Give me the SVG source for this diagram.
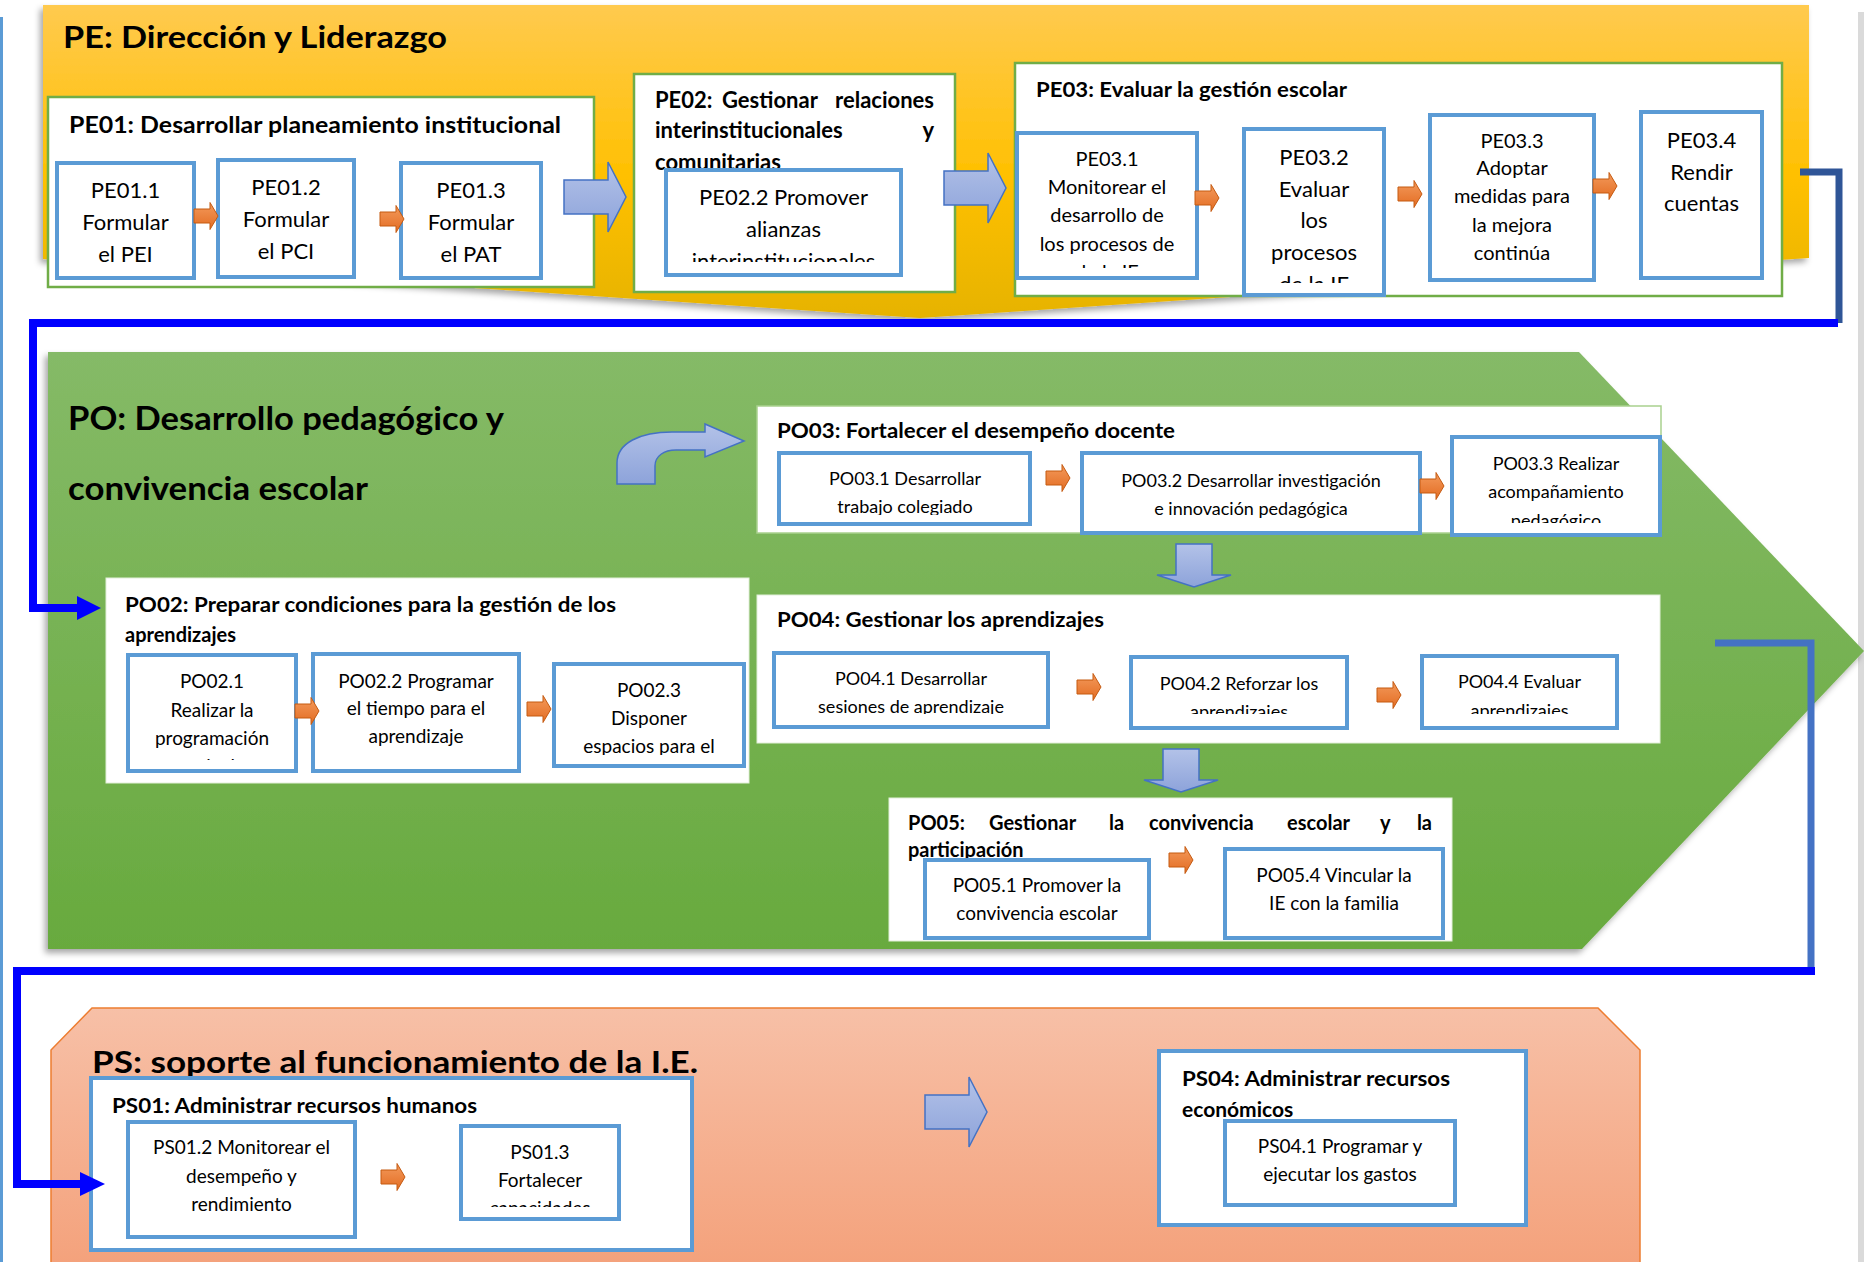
<svg xmlns="http://www.w3.org/2000/svg" width="1864" height="1262" viewBox="0 0 1864 1262">
<defs>
<style>
.t{font-family:Lato,"Open Sans","DejaVu Sans",sans-serif;fill:#000}
.b{font-weight:bold}
.c{text-anchor:middle}
.s18{font-size:18px}.s19{font-size:19px}.s20{font-size:20px}.s21{font-size:21px}.s22{font-size:22px}
.gb{fill:#fff;stroke:#70AD47;stroke-width:2.5}
.bb{fill:#fff;stroke:#5B9BD5;stroke-width:4}
.wb{fill:#fff;stroke:#E2EFD9;stroke-width:1}
.oa{fill:url(#og);stroke:#C55A11;stroke-width:1}
.ba{fill:url(#bg);stroke:#4472C4;stroke-width:1.5}
.cn{fill:none;stroke-linejoin:miter}
</style>
<linearGradient id="yg" x1="0" y1="0" x2="0" y2="1">
<stop offset="0" stop-color="#FFCA4F"/><stop offset="0.55" stop-color="#FFC000"/><stop offset="1" stop-color="#E6B300"/>
</linearGradient>
<linearGradient id="gg" x1="0" y1="0" x2="0" y2="1">
<stop offset="0" stop-color="#85BA67"/><stop offset="1" stop-color="#68AA3E"/>
</linearGradient>
<linearGradient id="pg" x1="0" y1="0" x2="0" y2="1">
<stop offset="0" stop-color="#F7C0A7"/><stop offset="1" stop-color="#F4A27C"/>
</linearGradient>
<linearGradient id="og" x1="0" y1="0" x2="0" y2="1">
<stop offset="0" stop-color="#F39A5C"/><stop offset="1" stop-color="#E36C22"/>
</linearGradient>
<linearGradient id="bg" x1="0" y1="0" x2="0" y2="1">
<stop offset="0" stop-color="#B3C2E8"/><stop offset="1" stop-color="#8DA3DA"/>
</linearGradient>
<filter id="sh" x="-5%" y="-5%" width="110%" height="115%">
<feDropShadow dx="-3" dy="4" stdDeviation="3" flood-color="#000" flood-opacity="0.35"/>
</filter>
<path id="oa" d="M0,-7 H16 V-13.5 L24,0 L16,13.5 V7 H0 Z"/>
<path id="ba" d="M0,-17 H44 V-35 L62,0 L44,35 V17 H0 Z"/>
<path id="da" d="M-18,0 H18 V31 H37 L0,43 L-37,31 H-18 Z"/>
<clipPath id="cPE022"><rect x="668" y="172" width="231" height="90"/></clipPath>
<clipPath id="cPE031"><rect x="1019" y="135" width="176" height="133"/></clipPath>
<clipPath id="cPE032"><rect x="1246" y="131" width="136" height="152"/></clipPath>
<clipPath id="cPO031"><rect x="781" y="455" width="247" height="60"/></clipPath>
<clipPath id="cPO033"><rect x="1454" y="439" width="204" height="84"/></clipPath>
<clipPath id="cPO041"><rect x="776" y="655" width="270" height="59"/></clipPath>
<clipPath id="cPO042"><rect x="1133" y="659" width="212" height="55"/></clipPath>
<clipPath id="cPO044"><rect x="1424" y="658" width="191" height="56"/></clipPath>
<clipPath id="cPO021"><rect x="130" y="657" width="164" height="103"/></clipPath>
<clipPath id="cPO023"><rect x="556" y="666" width="186" height="89"/></clipPath>
<clipPath id="cPS013"><rect x="463" y="1128" width="154" height="79"/></clipPath>
</defs>

<rect width="1864" height="1262" fill="#fff"/>
<rect x="0" y="17" width="3" height="1245" fill="#5B9BD5"/>
<rect x="1858" y="12" width="6" height="1250" fill="#DADADA"/>

<!-- Bands -->
<g id="band-PE">
<path d="M43,5 H1809 V258 L920,318 L43,259 Z" fill="url(#yg)" filter="url(#sh)"/>
<text class="t b" x="63" y="48" font-size="30" textLength="384" lengthAdjust="spacingAndGlyphs">PE: Dirección y Liderazgo</text>
</g>
<g id="band-PO">
<path d="M48,352 H1579 L1864,651 L1582,949 H48 Z" fill="url(#gg)" filter="url(#sh)"/>
<text class="t b" x="68" y="430" font-size="32" textLength="436" lengthAdjust="spacingAndGlyphs">PO: Desarrollo pedagógico y</text>
<text class="t b" x="68" y="500" font-size="32" textLength="300" lengthAdjust="spacingAndGlyphs">convivencia escolar</text>
</g>
<g id="band-PS">
<path d="M51,1262 V1050 L92,1008 H1598 L1640,1050 V1262" fill="url(#pg)" stroke="#ED7D31" stroke-width="1.5"/>
<text class="t b" x="92" y="1073" font-size="31" textLength="606" lengthAdjust="spacingAndGlyphs">PS: soporte al funcionamiento de la I.E.</text>
</g>

<!-- PE nodes -->
<g id="PE01">
<rect class="gb" x="48" y="97" width="546" height="190"/>
<text class="t b s22" x="69" y="133" textLength="492" lengthAdjust="spacingAndGlyphs">PE01: Desarrollar planeamiento institucional</text>
</g>
<g id="PE01.1">
<rect class="bb" x="57" y="163" width="137" height="115"/>
<text class="t c s22" x="125.5" y="198">PE01.1</text>
<text class="t c s22" x="125.5" y="230">Formular</text>
<text class="t c s22" x="125.5" y="262">el PEI</text>
</g>
<g id="PE01.2">
<rect class="bb" x="218" y="160" width="136" height="117"/>
<text class="t c s22" x="286" y="195">PE01.2</text>
<text class="t c s22" x="286" y="227">Formular</text>
<text class="t c s22" x="286" y="259">el PCI</text>
</g>
<g id="PE01.3">
<rect class="bb" x="401" y="163" width="140" height="115"/>
<text class="t c s22" x="471" y="198">PE01.3</text>
<text class="t c s22" x="471" y="230">Formular</text>
<text class="t c s22" x="471" y="262">el PAT</text>
</g>
<g id="PE02">
<rect class="gb" x="634" y="74" width="321" height="218"/>
<text class="t b s22" y="108"><tspan x="655">PE02:</tspan><tspan x="722">Gestionar</tspan><tspan x="934" text-anchor="end">relaciones</tspan></text>
<text class="t b s22" x="655" y="138">interinstitucionales</text>
<text class="t b s22" x="934" y="138" text-anchor="end">y</text>
<text class="t b s22" x="655" y="170">comunitarias</text>
</g>
<g id="PE02.2">
<rect class="bb" x="666" y="170" width="235" height="105"/>
<g clip-path="url(#cPE022)">
<text class="t c s22" x="783.5" y="205">PE02.2 Promover</text>
<text class="t c s22" x="783.5" y="237">alianzas</text>
<text class="t c s22" x="783.5" y="269">interinstitucionales</text>
</g>
</g>
<g id="PE03">
<rect class="gb" x="1015" y="63" width="767" height="233"/>
<text class="t b s21" x="1036" y="97" textLength="311" lengthAdjust="spacingAndGlyphs">PE03: Evaluar la gestión escolar</text>
</g>
<g id="PE03.1">
<rect class="bb" x="1017" y="133" width="180" height="145"/>
<g clip-path="url(#cPE031)">
<text class="t c s20" x="1107" y="166">PE03.1</text>
<text class="t c s20" x="1107" y="194">Monitorear el</text>
<text class="t c s20" x="1107" y="222">desarrollo de</text>
<text class="t c s20" x="1107" y="251">los procesos de</text>
<text class="t c s20" x="1107" y="279">de la IE</text>
</g>
</g>
<g id="PE03.2">
<rect class="bb" x="1244" y="129" width="140" height="166"/>
<g clip-path="url(#cPE032)">
<text class="t c s22" x="1314" y="165">PE03.2</text>
<text class="t c s22" x="1314" y="197">Evaluar</text>
<text class="t c s22" x="1314" y="228">los</text>
<text class="t c s22" x="1314" y="260">procesos</text>
<text class="t c s22" x="1314" y="292">de la IE</text>
</g>
</g>
<g id="PE03.3">
<rect class="bb" x="1430" y="115" width="164" height="165"/>
<text class="t c s20" x="1512" y="148">PE03.3</text>
<text class="t c s20" x="1512" y="175">Adoptar</text>
<text class="t c s20" x="1512" y="203">medidas para</text>
<text class="t c s20" x="1512" y="232">la mejora</text>
<text class="t c s20" x="1512" y="260">continúa</text>
</g>
<g id="PE03.4">
<rect class="bb" x="1641" y="112" width="121" height="166"/>
<text class="t c s22" x="1701.5" y="148">PE03.4</text>
<text class="t c s22" x="1701.5" y="180">Rendir</text>
<text class="t c s22" x="1701.5" y="211">cuentas</text>
</g>

<!-- PO nodes -->
<g id="PO03">
<rect x="757" y="406" width="904" height="127" fill="#fff" stroke="#A9D18E" stroke-width="1.5"/>
<text class="t b s20" x="777" y="438" textLength="398" lengthAdjust="spacingAndGlyphs">PO03: Fortalecer el desempeño docente</text>
</g>
<g id="PO03.1">
<rect class="bb" x="779" y="453" width="251" height="71"/>
<g clip-path="url(#cPO031)">
<text class="t c s18" x="905" y="485">PO03.1 Desarrollar</text>
<text class="t c s18" x="905" y="513">trabajo colegiado</text>
</g>
</g>
<g id="PO03.2">
<rect class="bb" x="1082" y="453" width="338" height="80"/>
<text class="t c s18" x="1251" y="487">PO03.2 Desarrollar investigación</text>
<text class="t c s18" x="1251" y="515">e innovación pedagógica</text>
</g>
<g id="PO03.3">
<rect class="bb" x="1452" y="437" width="208" height="98"/>
<g clip-path="url(#cPO033)">
<text class="t c s18" x="1556" y="470">PO03.3 Realizar</text>
<text class="t c s18" x="1556" y="498">acompañamiento</text>
<text class="t c s18" x="1556" y="527">pedagógico</text>
</g>
</g>
<g id="PO04">
<rect class="wb" x="757" y="595" width="903" height="148"/>
<text class="t b s20" x="777" y="627" textLength="327" lengthAdjust="spacingAndGlyphs">PO04: Gestionar los aprendizajes</text>
</g>
<g id="PO04.1">
<rect class="bb" x="774" y="653" width="274" height="74"/>
<g clip-path="url(#cPO041)">
<text class="t c s18" x="911" y="685">PO04.1 Desarrollar</text>
<text class="t c s18" x="911" y="713">sesiones de aprendizaje</text>
</g>
</g>
<g id="PO04.2">
<rect class="bb" x="1131" y="657" width="216" height="71"/>
<g clip-path="url(#cPO042)">
<text class="t c s18" x="1239" y="690">PO04.2 Reforzar los</text>
<text class="t c s18" x="1239" y="718">aprendizajes</text>
</g>
</g>
<g id="PO04.4">
<rect class="bb" x="1422" y="656" width="195" height="72"/>
<g clip-path="url(#cPO044)">
<text class="t c s18" x="1519.5" y="688">PO04.4 Evaluar</text>
<text class="t c s18" x="1519.5" y="717">aprendizajes</text>
</g>
</g>
<g id="PO05">
<rect class="wb" x="889" y="798" width="563" height="143"/>
<text class="t b s20" y="830"><tspan x="908">PO05:</tspan><tspan x="989">Gestionar</tspan><tspan x="1109">la</tspan><tspan x="1149">convivencia</tspan><tspan x="1287">escolar</tspan><tspan x="1380">y</tspan><tspan x="1432" text-anchor="end">la</tspan></text>
<text class="t b s20" x="908" y="857">participación</text>
</g>
<g id="PO05.1">
<rect class="bb" x="925" y="860" width="224" height="78"/>
<text class="t c s19" x="1037" y="892">PO05.1 Promover la</text>
<text class="t c s19" x="1037" y="920">convivencia escolar</text>
</g>
<g id="PO05.4">
<rect class="bb" x="1225" y="849" width="218" height="89"/>
<text class="t c s19" x="1334" y="882">PO05.4 Vincular la</text>
<text class="t c s19" x="1334" y="910">IE con la familia</text>
</g>
<g id="PO02">
<rect class="wb" x="106" y="578" width="643" height="205"/>
<text class="t b s20" x="125" y="612" textLength="491" lengthAdjust="spacingAndGlyphs">PO02: Preparar condiciones para la gestión de los</text>
<text class="t b s20" x="125" y="642">aprendizajes</text>
</g>
<g id="PO02.1">
<rect class="bb" x="128" y="655" width="168" height="116"/>
<g clip-path="url(#cPO021)">
<text class="t c s19" x="212" y="688">PO02.1</text>
<text class="t c s19" x="212" y="717">Realizar la</text>
<text class="t c s19" x="212" y="745">programación</text>
<text class="t c s19" x="212" y="773">curricular</text>
</g>
</g>
<g id="PO02.2">
<rect class="bb" x="313" y="654" width="206" height="117"/>
<text class="t c s19" x="416" y="688">PO02.2 Programar</text>
<text class="t c s19" x="416" y="715">el tiempo para el</text>
<text class="t c s19" x="416" y="743">aprendizaje</text>
</g>
<g id="PO02.3">
<rect class="bb" x="554" y="664" width="190" height="102"/>
<g clip-path="url(#cPO023)">
<text class="t c s19" x="649" y="697">PO02.3</text>
<text class="t c s19" x="649" y="725">Disponer</text>
<text class="t c s19" x="649" y="753">espacios para el</text>
</g>
</g>

<!-- PS nodes -->
<g id="PS01">
<rect class="bb" x="91" y="1078" width="601" height="172"/>
<text class="t b s21" x="112" y="1113" textLength="365" lengthAdjust="spacingAndGlyphs">PS01: Administrar recursos humanos</text>
</g>
<g id="PS01.2">
<rect class="bb" x="128" y="1122" width="227" height="115"/>
<text class="t c s19" x="241.5" y="1154">PS01.2 Monitorear el</text>
<text class="t c s19" x="241.5" y="1183">desempeño y</text>
<text class="t c s19" x="241.5" y="1211">rendimiento</text>
</g>
<g id="PS01.3">
<rect class="bb" x="461" y="1126" width="158" height="93"/>
<g clip-path="url(#cPS013)">
<text class="t c s19" x="540" y="1159">PS01.3</text>
<text class="t c s19" x="540" y="1187">Fortalecer</text>
<text class="t c s19" x="540" y="1215">capacidades</text>
</g>
</g>
<g id="PS04">
<rect class="bb" x="1159" y="1051" width="367" height="174"/>
<text class="t b s21" x="1182" y="1086" textLength="268" lengthAdjust="spacingAndGlyphs">PS04: Administrar recursos</text>
<text class="t b s21" x="1182" y="1117">económicos</text>
</g>
<g id="PS04.1">
<rect class="bb" x="1225" y="1121" width="230" height="84"/>
<text class="t c s19" x="1340" y="1153">PS04.1 Programar y</text>
<text class="t c s19" x="1340" y="1181">ejecutar los gastos</text>
</g>

<!-- Connectors -->
<g id="connectors">
<use href="#oa" class="oa" x="194" y="216"/>
<use href="#oa" class="oa" x="380" y="219"/>
<use href="#oa" class="oa" x="1195" y="198"/>
<use href="#oa" class="oa" x="1398" y="194"/>
<use href="#oa" class="oa" x="1593" y="186"/>
<use href="#oa" class="oa" x="1046" y="478"/>
<use href="#oa" class="oa" x="1420" y="486"/>
<use href="#oa" class="oa" x="1077" y="687"/>
<use href="#oa" class="oa" x="1377" y="695"/>
<use href="#oa" class="oa" x="1169" y="860"/>
<use href="#oa" class="oa" x="295" y="711"/>
<use href="#oa" class="oa" x="527" y="709"/>
<use href="#oa" class="oa" x="381" y="1177"/>
<use href="#ba" class="ba" x="564" y="197"/>
<use href="#ba" class="ba" x="944" y="188"/>
<use href="#ba" class="ba" x="925" y="1112"/>
<use href="#da" class="ba" x="1194" y="544"/>
<use href="#da" class="ba" x="1181" y="749"/>
<path class="ba" d="M617,484 V463 C617,443 640,432 672,432 H705 V424 L744,441 L705,457 V450 H676 C664,450 655,456 655,466 V484 Z"/>
<polyline class="cn" points="1800,172 1839,172 1839,323" stroke="#2F5597" stroke-width="7"/>
<polyline class="cn" points="1838,323 33,323 33,608 80,608" stroke="#0000FF" stroke-width="8"/>
<polygon points="77,596 101,608 77,620" fill="#0000FF"/>
<polyline class="cn" points="1715,643 1811,643 1811,971" stroke="#4472C4" stroke-width="7"/>
<polyline class="cn" points="1815,971 17,971 17,1184 82,1184" stroke="#0000FF" stroke-width="8"/>
<polygon points="80,1172 105,1184 80,1196" fill="#0000FF"/>
</g>
</svg>
